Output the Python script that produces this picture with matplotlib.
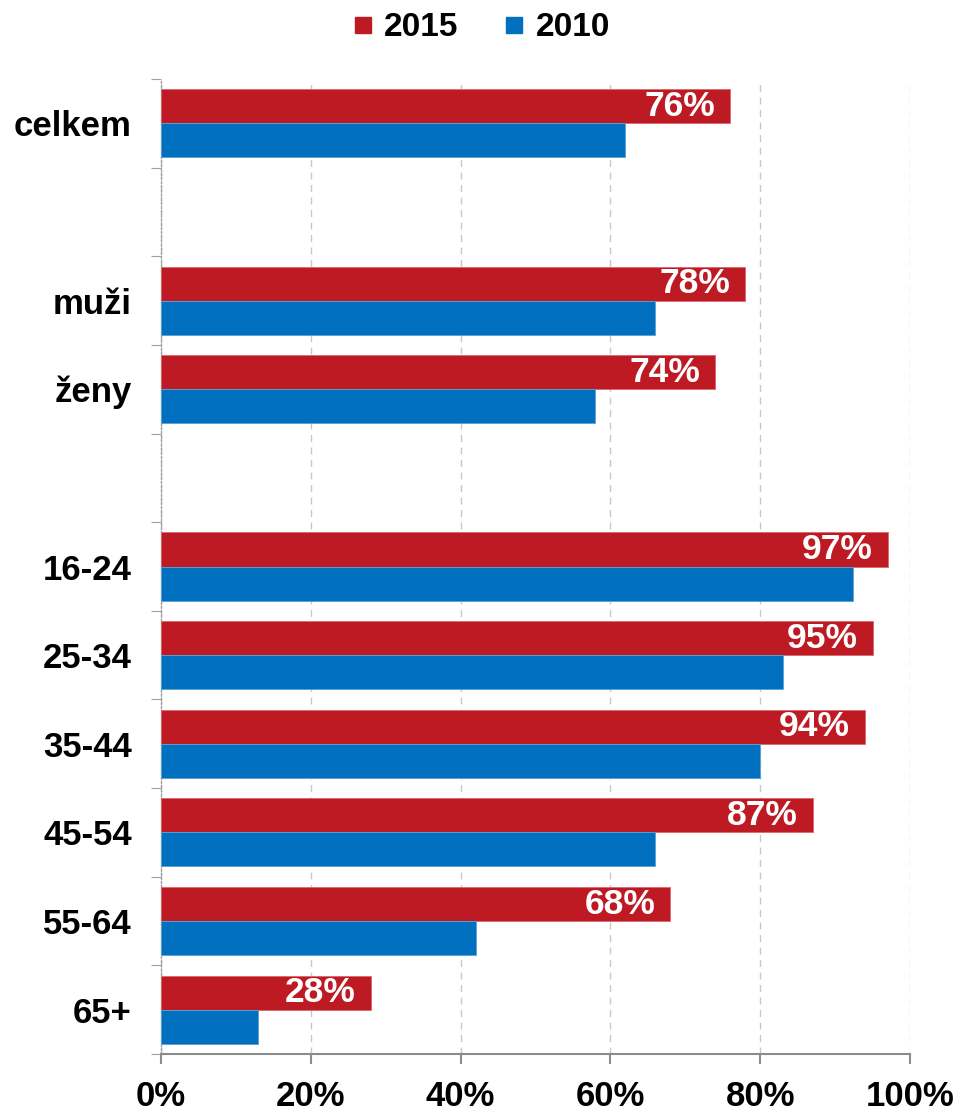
import numpy as np
import matplotlib
matplotlib.use("Agg")
import matplotlib.pyplot as plt
from matplotlib.lines import Line2D

plt.rcParams['font.family'] = ['Liberation Sans', 'DejaVu Sans']
plt.rcParams['font.weight'] = 'bold'

# data
categories = ["celkem", "", "muži", "ženy", "", "16-24", "25-34", "35-44", "45-54", "55-64", "65+"]
val_2015 = [76, None, 78, 74, None, 97, 95, 94, 87, 68, 28]
val_2010 = [62, None, 66, 58, None, 92.4, 83, 80, 66, 42, 13]
x_ticks = [0, 20, 40, 60, 80, 100]

RED = "#BE1A23"
BLUE = "#0070BF"

fig = plt.figure(figsize=(9.57, 11.13), dpi=100)
ax = fig.add_axes([0.1682, 0.053, 0.7827, 0.876])

pos = np.arange(len(categories))
h = 0.384
for i, (a, b) in enumerate(zip(val_2015, val_2010)):
    if a is None:
        continue
    ax.barh(i - h / 2, a, height=h, color=RED, edgecolor="#d9686e", linewidth=0.6, zorder=3)
    ax.barh(i + h / 2, b, height=h, color=BLUE, edgecolor="#5aa0d8", linewidth=0.6, zorder=3)
    ax.annotate(f"{a}%", xy=(a, i - h / 2), xytext=(-11, 0), textcoords="offset points",
                ha="right", va="center", color="white", fontsize=25.5, fontweight="bold", zorder=4)

ax.set_xlim(0, 100)
ax.set_ylim(len(categories) - 0.5, -0.5)

ax.set_xticks(x_ticks)
ax.set_xticklabels([f"{t}%" for t in x_ticks], fontsize=25, fontweight="bold")
ax.tick_params(axis="x", direction="out", length=7, width=1.5, color="#8c8c8c", pad=12)

ax.set_yticks(pos)
ax.set_yticklabels(categories, fontsize=25, fontweight="bold")
ax.tick_params(axis="y", which="major", length=0, pad=21)
ax.set_yticks(np.arange(-0.5, len(categories) + 0.5, 1), minor=True)
ax.tick_params(axis="y", which="minor", direction="out", length=7, width=0.8, color="#a0a0a0")

ax.xaxis.grid(True, linestyle=(0, (5, 4)), color="#c8c8c8", linewidth=1.0, zorder=0)
ax.set_axisbelow(True)

for s in ["top", "right"]:
    ax.spines[s].set_visible(False)
ax.spines["bottom"].set_color("#8c8c8c")
ax.spines["bottom"].set_linewidth(1.5)
ax.spines["left"].set_color("#a0a0a0")
ax.spines["left"].set_linestyle((0, (1.5, 1.5)))
ax.spines["left"].set_linewidth(1.0)

handles = [Line2D([], [], marker="s", linestyle="none", markersize=12, color=RED, label="2015"),
           Line2D([], [], marker="s", linestyle="none", markersize=12, color=BLUE, label="2010")]
fig.legend(handles=handles, loc="center", bbox_to_anchor=(0.502, 0.975), ncol=2, frameon=False,
           prop={"size": 24, "weight": "bold"}, handletextpad=0.3, columnspacing=1.3, handlelength=0.7)

fig.savefig("out.png", dpi=100)
